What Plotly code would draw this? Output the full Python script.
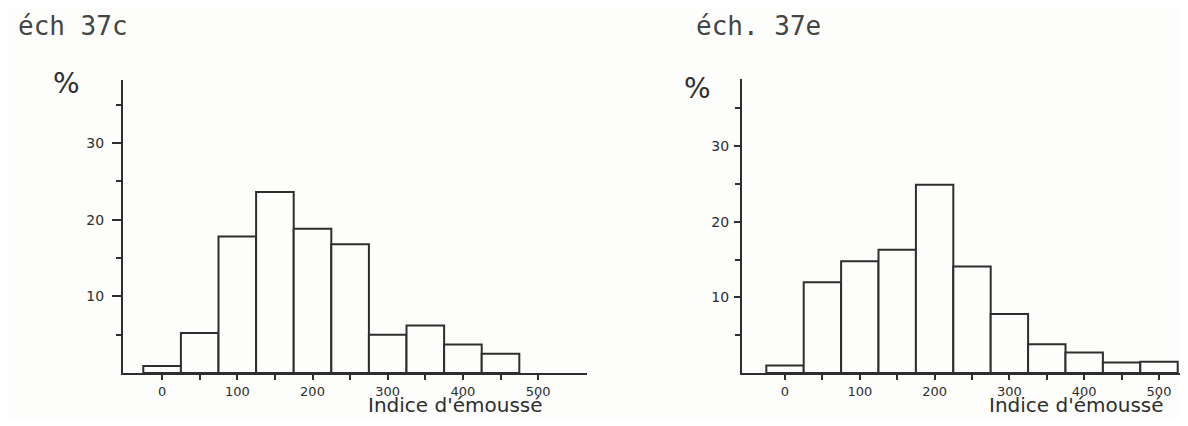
import plotly.graph_objects as go

W, H = 1188, 426          # fenêtre de la capture
OFF = 8                   # marge par défaut du <body>
FW, FH = W - 2 * OFF, H - 2 * OFF
INK = '#2e2e2e'        # traits à la main
TYPE_INK = '#454545'   # texte dactylographié
PAPER = '#fdfdfb'
HAND = 'DejaVu Sans'
TYPE = 'DejaVu Sans Mono'

CLASSES_37C = [0, 50, 100, 150, 200, 250, 300, 350, 400, 450]
PCT_37C = [0.9, 5.2, 17.8, 23.6, 18.8, 16.8, 5.0, 6.2, 3.7, 2.5]

CLASSES_37E = [0, 50, 100, 150, 200, 250, 300, 350, 400, 450, 500]
PCT_37E = [1.0, 12.0, 14.8, 16.3, 24.9, 14.1, 7.8, 3.8, 2.7, 1.4, 1.5]

X_TICKS = [0, 100, 200, 300, 400, 500]
X_MINOR = [50, 150, 250, 350, 450]
Y_TICKS = [10, 20, 30]
Y_MINOR = [5, 15, 25, 35]

TITRES = ['éch 37c', 'éch. 37e']
X_LABEL = "Indice d'émoussé"


# positions données en pixels de la page -> coordonnées papier
def px_x(p):
    return (p - OFF) / FW


def px_y(p):
    return 1 - (p - OFF) / FH


def _axes(xr, yr, xdom, ydom, yticklen, standoff):
    xa = dict(domain=xdom, range=xr, showgrid=False, zeroline=False,
              showline=True, linecolor=INK, linewidth=2,
              tickmode='array', tickvals=X_TICKS, ticks='outside',
              ticklen=5, tickwidth=2, tickcolor=INK,
              minor=dict(tickvals=X_MINOR, ticks='outside', ticklen=5,
                         tickwidth=2, tickcolor=INK),
              tickfont=dict(family=HAND, size=13, color=INK))
    ya = dict(domain=ydom, range=yr, showgrid=False, zeroline=False,
              showline=True, linecolor=INK, linewidth=2,
              tickmode='array', tickvals=Y_TICKS, ticks='outside',
              ticklen=yticklen, tickwidth=2, tickcolor=INK,
              ticklabelstandoff=standoff,
              minor=dict(tickvals=Y_MINOR, ticks='outside', ticklen=5,
                         tickwidth=2, tickcolor=INK),
              tickfont=dict(family=HAND, size=14, color=INK))
    return xa, ya


fig = go.Figure()
bar_style = dict(width=50, marker=dict(color=PAPER, line=dict(color=INK, width=2)),
                 showlegend=False, hoverinfo='x+y')
fig.add_trace(go.Bar(x=CLASSES_37C, y=PCT_37C, xaxis='x', yaxis='y', **bar_style))
fig.add_trace(go.Bar(x=CLASSES_37E, y=PCT_37E, xaxis='x2', yaxis='y2', **bar_style))

xa1, ya1 = _axes([-52, 565], [0, 38.2], [px_x(123), px_x(587)],
                 [px_y(373), px_y(80)], 9, 5)
xa2, ya2 = _axes([-57.5, (OFF + FW - 785) / 0.748], [0, 38.9], [px_x(742), 1],
                 [px_y(373), px_y(79)], 6, 2)
xa1['anchor'] = 'y'
ya1['anchor'] = 'x'
xa2['anchor'] = 'y2'
ya2['anchor'] = 'x2'

annots = [
    dict(text=TITRES[0], x=px_x(16), y=px_y(26), xanchor='left', yanchor='middle',
         font=dict(family=TYPE, size=26, color=TYPE_INK)),
    dict(text=TITRES[1], x=px_x(694), y=px_y(26), xanchor='left', yanchor='middle',
         font=dict(family=TYPE, size=26, color=TYPE_INK)),
    dict(text='%', x=px_x(66), y=px_y(84), xanchor='center', yanchor='middle',
         font=dict(family=HAND, size=28, color=INK)),
    dict(text='%', x=px_x(697), y=px_y(89), xanchor='center', yanchor='middle',
         font=dict(family=HAND, size=28, color=INK)),
    dict(text=X_LABEL, x=px_x(455), y=px_y(418), xanchor='center', yanchor='bottom',
         borderpad=0, font=dict(family=HAND, size=20, color=INK)),
    dict(text=X_LABEL, x=px_x(1076), y=px_y(418), xanchor='center', yanchor='bottom',
         borderpad=0, font=dict(family=HAND, size=20, color=INK)),
]
for a in annots:
    a.update(xref='paper', yref='paper', showarrow=False)

fig.update_layout(
    width=FW, height=FH, autosize=False,
    margin=dict(l=0, r=0, t=0, b=0),
    paper_bgcolor=PAPER, plot_bgcolor=PAPER,
    xaxis=xa1, yaxis=ya1, xaxis2=xa2, yaxis2=ya2,
    annotations=annots,
    barmode='overlay',
)

fig.write_html("out.html")
